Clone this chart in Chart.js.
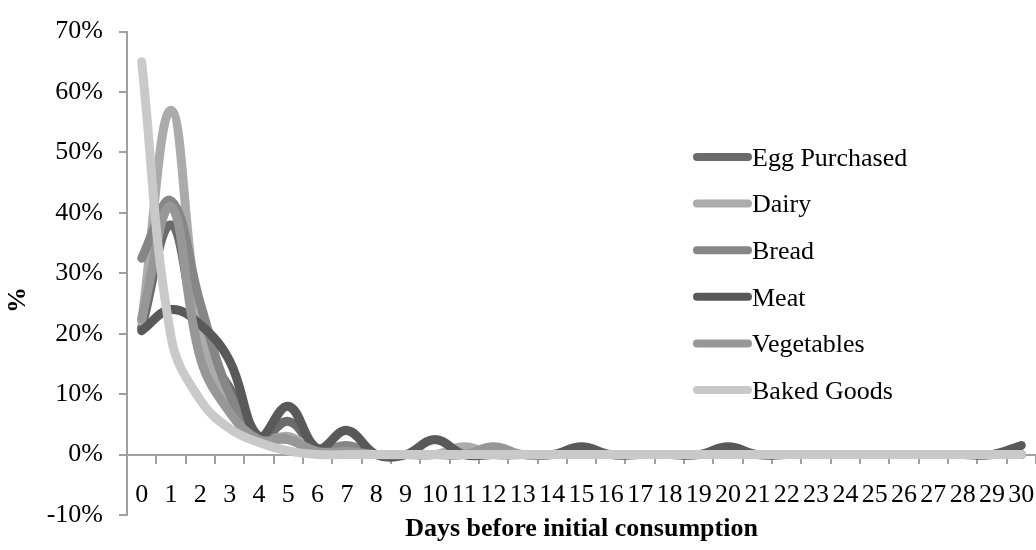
<!DOCTYPE html>
<html>
<head>
<meta charset="utf-8">
<script src="https://cdn.jsdelivr.net/npm/chart.js@4/dist/chart.umd.min.js"></script>
<style>
  html, body { margin: 0; padding: 0; background: #fff; }
  #wrap { width: 1036px; height: 550px; }
</style>
</head>
<body>
<div id="wrap"><canvas id="chart" width="1036" height="550"></canvas></div>
<script>
// Days before initial consumption (category axis)
const days = ['0','1','2','3','4','5','6','7','8','9','10','11','12','13','14','15',
              '16','17','18','19','20','21','22','23','24','25','26','27','28','29','30'];

// Share of respondents (%) per day, one array per food group
const eggPurchased = [21, 38, 19, 11, 2.5, 5.5, 1, 1, 0, 0, 0, 0, 0, 0, 0, 0,
                      0, 0, 0, 0, 0, 0, 0, 0, 0, 0, 0, 0, 0, 0, 0];
const dairy        = [22, 57, 21, 8, 2.5, 3, 0.5, 0.5, 0, 0, 0, 1.3, 0, 0, 0, 0,
                      0, 0, 0, 0, 0, 0, 0, 0, 0, 0, 0, 0, 0, 0, 0];
const bread        = [32.5, 42, 25, 10, 3, 2.5, 0.5, 1.5, 0, 0, 0, 0, 0, 0, 0, 0,
                      0, 0, 0, 0, 0, 0, 0, 0, 0, 0, 0, 0, 0, 0, 0];
const meat         = [20.5, 24, 21.5, 15.5, 3, 8, 1, 4, 0, 0, 2.5, 0, 0, 0, 0, 1.3,
                      0, 0, 0, 0, 1.3, 0, 0, 0, 0, 0, 0, 0, 0, 0, 1.5];
const vegetables   = [22.5, 41, 16, 7, 2.5, 2.5, 0.5, 0.5, 0, 0, 0, 0, 1.3, 0, 0, 0,
                      0, 0, 0, 0, 0, 0, 0, 0, 0, 0, 0, 0, 0, 0, 0];
const bakedGoods   = [65, 19.5, 9, 4.3, 2, 0.6, 0, 0, 0, 0, 0, 0, 0, 0, 0, 0,
                      0, 0, 0, 0, 0, 0, 0, 0, 0, 0, 0, 0, 0, 0, 0];

// Y axis range and step (%)
const yMin = -10, yMax = 70, yStep = 10;

const seriesNames  = ['Egg Purchased', 'Dairy', 'Bread', 'Meat', 'Vegetables', 'Baked Goods'];
const seriesValues = [eggPurchased, dairy, bread, meat, vegetables, bakedGoods];
const seriesColors = ['#6b6b6b', '#ababab', '#868686', '#595959', '#979797', '#c9c9c9'];

const serif = '"Liberation Serif", "Times New Roman", serif';
const axisGrey = '#a0a0a0';

// Later series are painted over earlier ones
const datasets = seriesNames.map((name, i) => ({
  label: name,
  data: seriesValues[i],
  borderColor: seriesColors[i],
  backgroundColor: seriesColors[i],
  borderWidth: 9,
  borderCapStyle: 'round',
  borderJoinStyle: 'round',
  pointRadius: 0,
  pointHoverRadius: 0,
  tension: 0.4,
  fill: false,
  order: seriesNames.length - 1 - i
}));

// Vertical legend inside the plot, plus the rotated "%" axis title
const sideLegend = {
  id: 'sideLegend',
  afterDraw(chart) {
    const ctx = chart.ctx;
    ctx.save();
    ctx.font = '26px ' + serif;
    ctx.textBaseline = 'middle';
    ctx.textAlign = 'left';
    chart.data.datasets.forEach((ds, i) => {
      const y = 157 + i * 46.6;
      ctx.strokeStyle = ds.borderColor;
      ctx.lineWidth = 8;
      ctx.lineCap = 'round';
      ctx.beginPath();
      ctx.moveTo(697, y);
      ctx.lineTo(748, y);
      ctx.stroke();
      ctx.fillStyle = '#000';
      ctx.fillText(ds.label, 752, y + 2);
    });

    ctx.translate(18, 300);
    ctx.rotate(-Math.PI / 2);
    ctx.font = 'bold 26px ' + serif;
    ctx.textAlign = 'center';
    ctx.textBaseline = 'middle';
    ctx.fillText('%', 0, 0);
    ctx.restore();
  }
};

new Chart(document.getElementById('chart'), {
  type: 'line',
  data: { labels: days, datasets },
  plugins: [sideLegend],
  options: {
    responsive: false,
    animation: false,
    layout: { padding: { top: 25, left: 0, right: 0, bottom: 0 } },
    plugins: {
      legend: { display: false },
      tooltip: { enabled: false }
    },
    scales: {
      x: {
        type: 'category',
        position: { y: 0 },
        offset: true,
        grid: {
          offset: true,
          drawOnChartArea: false,
          drawTicks: true,
          tickLength: 8,
          color: axisGrey,
          lineWidth: 2
        },
        border: { color: axisGrey, width: 2 },
        ticks: {
          font: { family: serif, size: 26 },
          color: '#000',
          padding: 17,
          maxRotation: 0,
          minRotation: 0,
          autoSkip: false
        },
        // labels sit inside the category slots, so no side padding is needed
        afterFit(scale) { scale.paddingLeft = 0; scale.paddingRight = 0; }
      },
      xTitle: {
        type: 'category',
        labels: days,
        position: 'bottom',
        offset: true,
        grid: { display: false, drawTicks: false },
        border: { display: false },
        ticks: { display: false },
        title: {
          display: true,
          text: 'Days before initial consumption',
          font: { family: serif, size: 26, weight: 'bold' },
          color: '#000',
          padding: { top: 0, bottom: 5 }
        },
        afterFit(scale) { scale.height = 35; }
      },
      y: {
        type: 'linear',
        min: yMin,
        max: yMax,
        grid: {
          drawOnChartArea: false,
          drawTicks: true,
          tickLength: 8,
          color: axisGrey,
          lineWidth: 2
        },
        border: { color: axisGrey, width: 2 },
        ticks: {
          stepSize: yStep,
          font: { family: serif, size: 26 },
          color: '#000',
          padding: 16,
          callback: (v) => v + '%'
        },
        afterFit(scale) { scale.width = 127; }
      }
    }
  }
});
</script>
</body>
</html>
